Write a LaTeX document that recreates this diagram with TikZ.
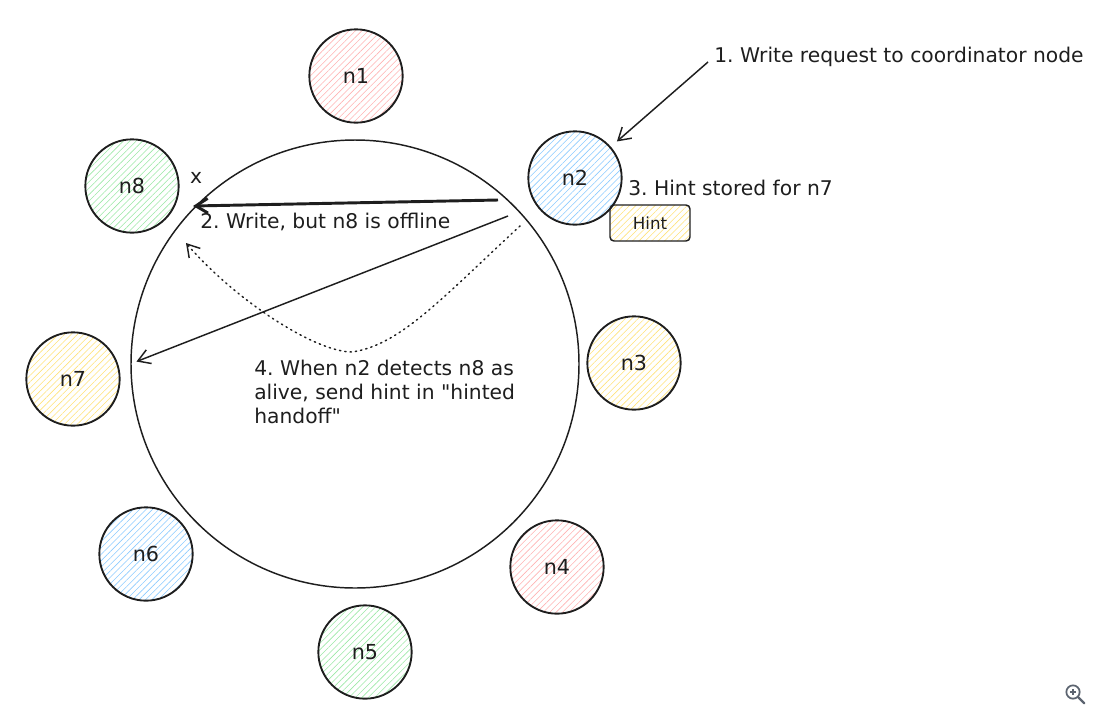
\documentclass[tikz,border=0pt]{standalone}
\usepackage{fontspec}
\setmainfont{DejaVu Sans}[Ligatures=TeXOff]
\frenchspacing
\usetikzlibrary{arrows.meta,patterns.meta}
\definecolor{inkdark}{HTML}{1E1E1E}
\definecolor{hatchred}{HTML}{FFB3B3}
\definecolor{hatchblue}{HTML}{8CCBFF}
\definecolor{hatchgreen}{HTML}{9BE8A6}
\definecolor{hatchyellow}{HTML}{FFE27A}
\definecolor{zoomgray}{HTML}{5C6470}
\tikzset{
  peer/.style={circle,draw=inkdark,line width=1.4pt,minimum size=70pt,inner sep=0pt,
    text=inkdark,font=\fontsize{15.5}{18}\selectfont},
  hatch/.style={pattern={Lines[angle=45,distance=3.4pt,line width=0.45pt]},pattern color=#1},
  note/.style={anchor=west,inner sep=0pt,text=inkdark,font=\fontsize{15.2}{18}\selectfont},
  msg/.style={draw=inkdark,line width=1.1pt,-{Straight Barb[length=9pt,width=11pt]}},
}
\begin{document}
\begin{tikzpicture}[x=0.75pt,y=-0.75pt]
\useasboundingbox (0,0) rectangle (1117,726);
% ring of nodes
\node[circle,draw=inkdark,line width=1.1pt,minimum size=336pt,inner sep=0pt] (ring) at (355,364) {};
\node[peer,hatch=hatchred] (n1) at (356,76) {n1};
\node[peer,hatch=hatchblue] (n2) at (575,178) {n2};
\node[peer,hatch=hatchyellow] (n3) at (634,363) {n3};
\node[peer,hatch=hatchred] (n4) at (557,567) {n4};
\node[peer,hatch=hatchgreen] (n5) at (365,652) {n5};
\node[peer,hatch=hatchblue] (n6) at (146,554) {n6};
\node[peer,hatch=hatchyellow] (n7) at (73,379) {n7};
\node[peer,hatch=hatchgreen] (n8) at (132,186) {n8};
% step 1
\node[note] (req) at (714,57) {1. Write request to coordinator node};
\coordinate (reqtail) at (708,62);
\draw[msg,shorten >=6pt] (reqtail) -- (n2);
% step 2
\coordinate (w2a) at (498,200);
\coordinate (w2b) at (193,206);
\draw[msg,line width=2.2pt] (w2a) -- (w2b);
\node[note,anchor=center] (down) at (196,178) {x};
\node[note] (lbl2) at (200,222) {2. Write, but n8 is offline};
% step 3
\coordinate (w3a) at (508,216);
\draw[msg,shorten >=5pt] (w3a) -- (ring.west);
\node[note] (lbl3) at (628,188) {3. Hint stored for n7};
\node[draw=inkdark,line width=1.1pt,rounded corners=3pt,hatch=hatchyellow,
  minimum width=60pt,minimum height=27pt,inner sep=0pt,text=inkdark,
  font=\fontsize{12.5}{14}\selectfont] (hint) at (650,223) {Hint};
% step 4
\coordinate (h4a) at (520,226);
\coordinate (h4m) at (352,352);
\coordinate (h4b) at (186,243);
\draw[msg,dash pattern=on 1pt off 3pt,line cap=round]
  (h4a) .. controls (440,300) and (400,345) .. (h4m)
  .. controls (315,352) and (235,300) .. (h4b);
\node[note,align=left] (lbl4) at (254,392) {4. When n2 detects n8 as\\alive, send hint in "hinted\\handoff"};
% zoom icon
\node[circle,draw=zoomgray,line width=1.3pt,minimum size=10pt,inner sep=0pt] (lens) at (1073,692) {};
\draw[zoomgray,line width=1.6pt,line cap=round] (lens.-45) -- ++(6,6);
\draw[zoomgray,line width=0.9pt] (1070,692) -- (1076,692) (1073,689) -- (1073,695);
\end{tikzpicture}
\end{document}
